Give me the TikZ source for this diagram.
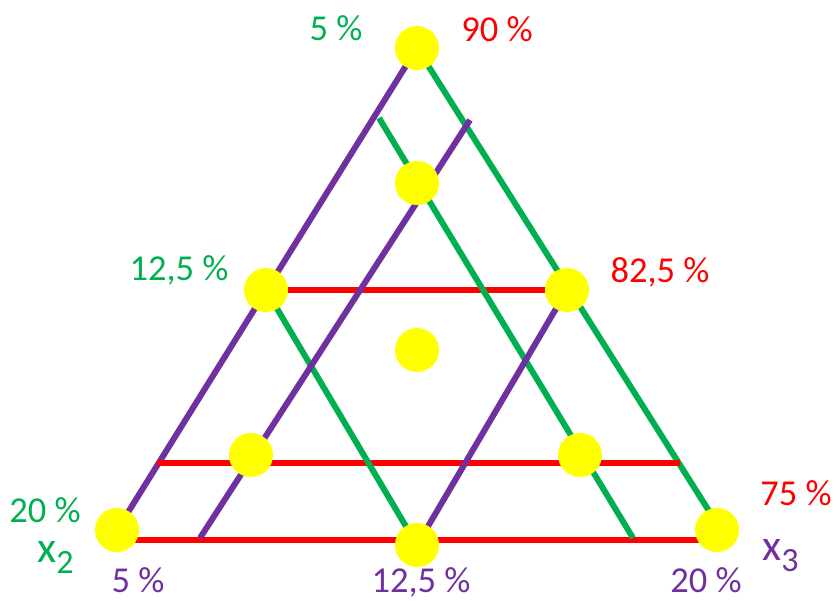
\documentclass[tikz,border=0pt]{standalone}
\usepackage{fontspec}
\setmainfont{Carlito}
\usetikzlibrary{backgrounds}

\definecolor{offgreen}{RGB}{0,176,80}
\definecolor{offpurple}{RGB}{112,48,160}
\definecolor{offred}{RGB}{255,0,0}
\definecolor{offyellow}{RGB}{255,255,0}

\newcommand{\subx}[1]{x\raisebox{-11pt}{\fontsize{34}{36}\selectfont #1}}

\begin{document}
\begin{tikzpicture}[x=1pt, y=-1pt,
    dot/.style={circle, fill=offyellow, inner sep=0pt, minimum size=44pt},
    pline/.style={offpurple, line width=6pt},
    gline/.style={offgreen, line width=6pt},
    rline/.style={offred, line width=6.5pt},
    lbl/.style={anchor=base, inner sep=0pt, font=\fontsize{36.5}{40}\selectfont},
    vlbl/.style={anchor=base west, inner sep=0pt, font=\fontsize{44}{48}\selectfont}]
    \useasboundingbox (0,0) rectangle (835,600);

    % Mixture points (yellow dots)
    \foreach \name/\x/\y in {top/417/48, up/417/183, ml/266/290, mr/567/290, ctr/417/350,
                             ll/251/455, lr/580/455, bl/117/530, bm/417/545, br/717/530} {
        \node[dot] (\name) at (\x,\y) {};
    }

    % Free ends of the lines
    \coordinate (ge) at (721,530);
    \coordinate (b0) at (125,540);
    \coordinate (b1) at (708,540);
    \coordinate (r0) at (157,463);
    \coordinate (r1) at (680,463);
    \coordinate (g0) at (379,118);
    \coordinate (g1) at (633,538);
    \coordinate (p0) at (470,120);
    \coordinate (p1) at (200,538);

    \begin{scope}[on background layer]
        % Triangle edges
        \draw[pline] (bl.center) -- (top.center);
        \draw[gline] (top.center) -- (ge);
        \draw[rline] (b0) -- (b1);
        % Red lines (constant x1)
        \draw[rline] (ml.center) -- (mr.center);
        \draw[rline] (r0) -- (r1);
        % Green lines (constant x2)
        \draw[gline] (g0) -- (g1);
        \draw[gline] (ml.center) -- (bm.center);
        % Purple lines (constant x3)
        \draw[pline] (p0) -- (p1);
        \draw[pline] (mr.center) -- (bm.center);
    \end{scope}

    % Percentages
    \node[lbl, offgreen] (g5) at (336,40) {5 \%};
    \node[lbl, offgreen] (g125) at (179,280) {12,5 \%};
    \node[lbl, offgreen] (g20) at (45,522) {20 \%};
    \node[lbl, offred] (r90) at (497,41) {90 \%};
    \node[lbl, offred] (r825) at (660,282) {82,5 \%};
    \node[lbl, offred] (r75) at (796,505) {75 \%};
    \node[lbl, offpurple] (p5) at (138,592) {5 \%};
    \node[lbl, offpurple] (p125) at (421,592) {12,5 \%};
    \node[lbl, offpurple] (p20) at (706,592) {20 \%};

    % Component names
    \node[vlbl, offgreen] (xtwo) at (37,562) {\subx{2}};
    \node[vlbl, offpurple] (xthree) at (762,560) {\subx{3}};
\end{tikzpicture}
\end{document}
